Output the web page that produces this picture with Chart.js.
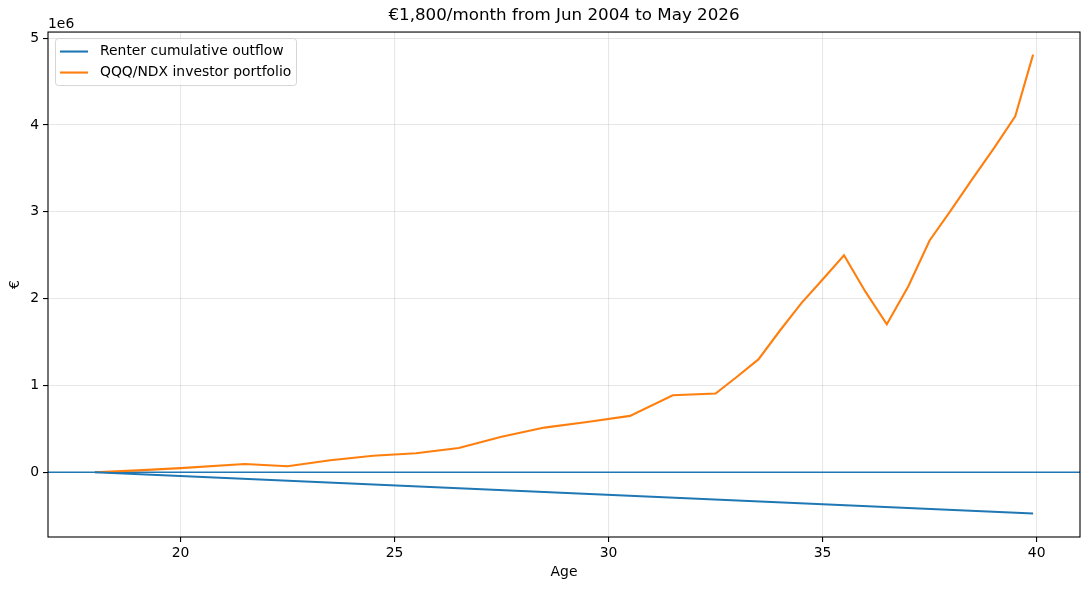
<!DOCTYPE html>
<html>
<head>
<meta charset="utf-8">
<script src="https://cdn.jsdelivr.net/npm/chart.js@4.4.0/dist/chart.umd.min.js"></script>
<style>
    html, body { margin: 0; background: #fff; }
    canvas { display: block; }
</style>
</head>
<body>
<canvas id="chart" width="1089" height="590"></canvas>
<script>
const titleText = "€1,800/month from Jun 2004 to May 2026";
const xLabel = "Age";
const yLabel = "€";
const seriesLabels = ["Renter cumulative outflow", "QQQ/NDX investor portfolio"];

// renter: straight line from the first month to May 2026
const renterAges = [18, 39.917];
const renterOutflow = [0, -475200];

// portfolio (ages / euros)
const portfolioAges = [18, 19, 20, 21.5, 22.5, 23.5, 24.5, 25.5, 26.5, 27.5, 28.5, 29.5, 30.5,
    31.5, 32.5, 33, 33.5, 34, 34.5, 35, 35.5, 36, 36.5, 37, 37.5, 38, 38.5, 39, 39.5, 39.917];
const portfolioValues = [0, 22000, 48000, 95000, 70000, 138000, 190000, 220000, 280000, 410000,
    515000, 580000, 650000, 888000, 907000, 1100000, 1300000, 1630000, 1945000, 2220000,
    2500000, 2080000, 1705000, 2140000, 2670000, 3020000, 3380000, 3730000, 4100000, 4810000];

const xTicks = [20, 25, 30, 35, 40];
const yTicks = [0, 1e6, 2e6, 3e6, 4e6, 5e6];
const xRange = [16.904, 41.013];
const yRange = [-745000, 5070000];

const colors = ["#1f77b4", "#ff7f0e"];
const font = "DejaVu Sans";

const toPoints = (xs, ys) => xs.map((x, i) => ({ x: x, y: ys[i] }));

const axesFrame = {
    id: "axesFrame",
    beforeDatasetsDraw(chart) {
        // axhline at zero
        const { ctx, chartArea } = chart;
        const y = chart.scales.y.getPixelForValue(0);
        ctx.save();
        ctx.strokeStyle = colors[0];
        ctx.lineWidth = 1.4;
        ctx.beginPath();
        ctx.moveTo(chartArea.left, y);
        ctx.lineTo(chartArea.right, y);
        ctx.stroke();
        ctx.restore();
    },
    afterDatasetsDraw(chart) {
        const { ctx, chartArea } = chart;
        ctx.save();
        ctx.strokeStyle = "#000";
        ctx.lineWidth = 1.1;
        ctx.strokeRect(chartArea.left, chartArea.top, chartArea.right - chartArea.left, chartArea.bottom - chartArea.top);

        // legend box, upper left
        const bx = chartArea.left + 7, by = chartArea.top + 6, bw = 241, bh = 47;
        ctx.fillStyle = "rgba(255,255,255,0.8)";
        ctx.strokeStyle = "rgba(204,204,204,0.8)";
        ctx.lineWidth = 1;
        ctx.beginPath();
        ctx.roundRect(bx + 0.5, by + 0.5, bw, bh, 3);
        ctx.fill();
        ctx.stroke();
        ctx.font = "13.9px '" + font + "'";
        ctx.textBaseline = "middle";
        ctx.textAlign = "left";
        chart.data.datasets.forEach((ds, i) => {
            const ly = by + 13.5 + i * 21;
            ctx.strokeStyle = ds.borderColor;
            ctx.lineWidth = 2.1;
            ctx.beginPath();
            ctx.moveTo(bx + 5, ly);
            ctx.lineTo(bx + 33, ly);
            ctx.stroke();
            ctx.fillStyle = "#000";
            ctx.fillText(ds.label, bx + 45, ly);
        });

        // scale offset text
        ctx.fillStyle = "#000";
        ctx.textBaseline = "alphabetic";
        ctx.fillText("1e6", chartArea.left, chartArea.top - 4);
        ctx.restore();
    }
};

new Chart(document.getElementById("chart"), {
    type: "line",
    data: {
        datasets: [
            {
                label: seriesLabels[0],
                data: toPoints(renterAges, renterOutflow),
                borderColor: colors[0],
                backgroundColor: colors[0],
            },
            {
                label: seriesLabels[1],
                data: toPoints(portfolioAges, portfolioValues),
                borderColor: colors[1],
                backgroundColor: colors[1],
            },
        ],
    },
    options: {
        responsive: false,
        animation: false,
        devicePixelRatio: 1,
        layout: { padding: { left: 0, right: 9, top: 0, bottom: 0 } },
        elements: {
            line: { borderWidth: 2.1, tension: 0 },
            point: { radius: 0 },
        },
        plugins: {
            legend: { display: false },
            tooltip: { enabled: false },
            title: {
                display: true,
                text: titleText,
                fullSize: false,
                color: "#000",
                font: { family: font, size: 16.7, weight: "normal" },
                padding: { top: 6, bottom: 6 },
            },
        },
        scales: {
            x: {
                type: "linear",
                min: xRange[0],
                max: xRange[1],
                afterFit: (scale) => { scale.height = 53; },
                afterBuildTicks: (scale) => { scale.ticks = xTicks.map((v) => ({ value: v })); },
                border: { display: false },
                grid: { color: "rgba(176,176,176,0.3)", lineWidth: 1.1, tickColor: "#000", tickLength: 5 },
                ticks: {
                    color: "#000",
                    padding: 3,
                    maxRotation: 0,
                    font: { family: font, size: 13.9 },
                    callback: (v) => String(v),
                },
                title: {
                    display: true,
                    text: xLabel,
                    color: "#000",
                    font: { family: font, size: 13.9 },
                    padding: { top: 0, bottom: 9 },
                },
            },
            y: {
                min: yRange[0],
                max: yRange[1],
                afterFit: (scale) => { scale.width = 48; },
                afterBuildTicks: (scale) => { scale.ticks = yTicks.map((v) => ({ value: v })); },
                border: { display: false },
                grid: { color: "rgba(176,176,176,0.3)", lineWidth: 1.1, tickColor: "#000", tickLength: 5 },
                ticks: {
                    color: "#000",
                    padding: 4,
                    font: { family: font, size: 13.9 },
                    callback: (v) => String(Math.round(v / 1e6)),
                },
                title: {
                    display: true,
                    text: yLabel,
                    color: "#000",
                    font: { family: font, size: 13.9 },
                    padding: { top: 7, bottom: 0 },
                },
            },
        },
    },
    plugins: [axesFrame],
});
</script>
</body>
</html>
